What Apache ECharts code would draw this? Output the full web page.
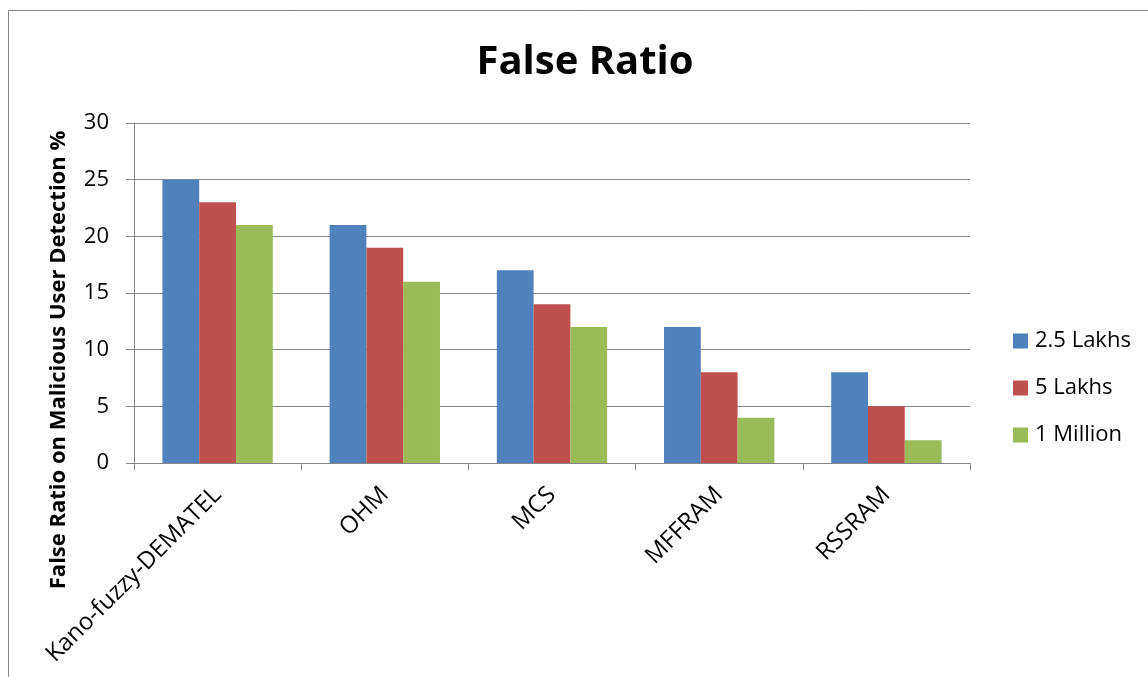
<!DOCTYPE html>
<html><head><meta charset="utf-8">
<script src="https://cdn.jsdelivr.net/npm/echarts@6/dist/echarts.min.js"></script>
<style>html,body{margin:0;padding:0;background:#fff}#c{width:1148px;height:677px}</style>
</head><body><div id="c"></div>
<script>
const categories = ['Kano-fuzzy-DEMATEL', 'OHM', 'MCS', 'MFFRAM', 'RSSRAM'];
const s25Lakhs = [25, 21, 17, 12, 8];
const s5Lakhs = [23, 19, 14, 8, 5];
const s1Million = [21, 16, 12, 4, 2];
const seriesNames = ['2.5 Lakhs', '5 Lakhs', '1 Million'];
const colors = ['#4F81BD', '#C0504D', '#9BBB59'];
const FONT = '"Open Sans", "Noto Sans", sans-serif';
const chart = echarts.init(document.getElementById('c'), null, {renderer: 'canvas'});
const mk = (name, data, color) => ({
  name, type: 'bar', data, barGap: '0%', barCategoryGap: '34%',
  itemStyle: {color}, emphasis: {disabled: true}
});
chart.setOption({
  animation: false,
  title: {text: 'False Ratio', left: 580, top: 38, textAlign: 'center',
    textStyle: {fontFamily: FONT, fontWeight: 'bold', fontSize: 40, color: '#000'}},
  graphic: [
    {type: 'rect', shape: {x: 8.5, y: 10.5, width: 1200, height: 700},
      style: {fill: 'none', stroke: '#868686', lineWidth: 1}, silent: true, z: -1},
    {type: 'text', x: 59, y: 360, rotation: Math.PI / 2,
      style: {text: 'False Ratio on Malicious User Detection %', fontFamily: FONT,
        fontWeight: 'bold', fontSize: 22, fill: '#000', align: 'center', verticalAlign: 'middle'}}
  ],
  legend: {
    orient: 'vertical', left: 1013, top: 330, padding: 0, itemWidth: 15, itemHeight: 15, itemGap: 25,
    icon: 'rect', data: seriesNames,
    textStyle: {fontFamily: FONT, fontSize: 22, color: '#000', padding: [0, 0, 0, 2]}
  },
  grid: {left: 134, top: 123, right: 178, bottom: 214, containLabel: false},
  xAxis: {
    type: 'category', data: categories,
    axisLine: {lineStyle: {color: '#868686', width: 1}},
    axisTick: {show: true, length: 7, lineStyle: {color: '#868686'}},
    axisLabel: {rotate: 45, fontFamily: FONT, fontSize: 24, color: '#000', margin: 28, interval: 0}
  },
  yAxis: {
    type: 'value', min: 0, max: 30, interval: 5,
    axisLine: {show: true, lineStyle: {color: '#868686', width: 1}},
    axisTick: {show: true, length: 8, lineStyle: {color: '#868686'}},
    splitLine: {lineStyle: {color: '#868686', width: 1}},
    axisLabel: {fontFamily: FONT, fontSize: 22, color: '#000', margin: 25}
  },
  series: [
    mk(seriesNames[0], s25Lakhs, colors[0]),
    mk(seriesNames[1], s5Lakhs, colors[1]),
    mk(seriesNames[2], s1Million, colors[2])
  ]
});
</script></body></html>
